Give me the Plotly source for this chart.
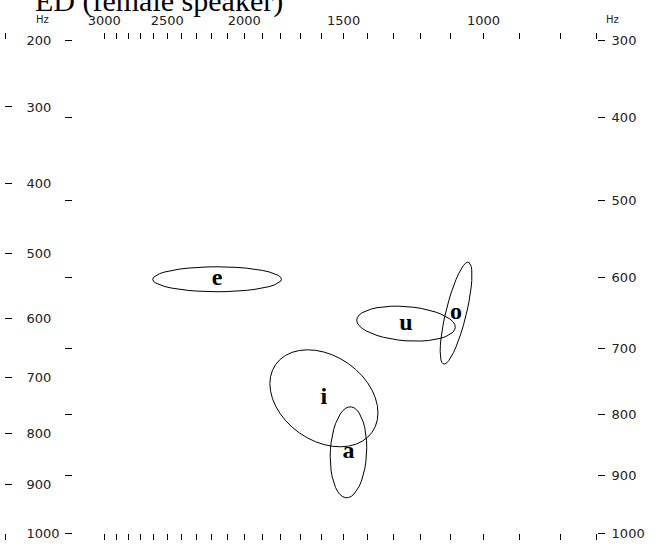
import numpy as np
import plotly.graph_objects as go

# ---------- Data ----------
VOWELS = ['e', 'u', 'o', 'i', 'a']
F2_HZ = [2164, 1252, 1083, 1588, 1479]          # ellipse centres, F2 (Hz)
F1_HZ = [539, 609, 592, 736, 836]               # ellipse centres, F1 (Hz)
F2_SPREAD = [0.081, 0.062, 0.020, 0.068, 0.023]  # half axis, log10(Hz)
F1_SPREAD = [0.161, 0.226, 0.658, 0.626, 0.587]  # half axis, Bark
RHO = [0.0, -0.2, 0.75, -0.3, 0.1]              # F2/F1 correlation

F2_TICKS = list(range(3000, 700, -100))
F2_LABELED = [3000, 2500, 2000, 1500, 1000]
F2_RANGE = (4000, 720)

# F1 scales: left and right are drawn on different Bark spans; the top
# label of each one simply marks the corner of the frame
F1_LEFT = [200, 300, 400, 500, 600, 700, 800, 900, 1000]
F1_LEFT_RANGE = (219, 1000)
F1_RIGHT = [300, 400, 500, 600, 700, 800, 900, 1000]
F1_RIGHT_RANGE = (314, 1000)

TITLE = 'ED (female speaker)'


def bark(f):
    f = np.asarray(f, dtype=float)
    return 26.81 * f / (1960 + f) - 0.53


def bark_ticks(values, top):
    pos = bark(values)
    pos[0] = bark(top)  # first label sits on the frame corner
    return pos


# ---------- Figure ----------
TICKFONT = dict(family='DejaVu Sans', size=13, color='#222')
W, H = 655, 546
M = dict(l=5, r=58, t=40, b=13)
plot_w = W - M['l'] - M['r']

fig = go.Figure()

t = np.linspace(0, 2 * np.pi, 41)
for v, f2, f1, sx, sy, r in zip(VOWELS, F2_HZ, F1_HZ, F2_SPREAD, F1_SPREAD, RHO):
    xs = 10 ** (np.log10(f2) + sx * np.cos(t))
    ys = bark(f1) + sy * (r * np.cos(t) + np.sqrt(1 - r ** 2) * np.sin(t))
    fig.add_trace(go.Scatter(x=xs, y=ys, mode='lines',
                             line=dict(color='black', width=1), hoverinfo='skip'))

fig.add_trace(go.Scatter(x=F2_HZ, y=bark(F1_HZ), mode='text', text=VOWELS,
                         textposition='middle center',
                         textfont=dict(family='Liberation Serif', size=24,
                                       color='black', weight='bold')))

# empty traces so the extra axes are drawn
fig.add_trace(go.Scatter(x=[], y=[], xaxis='x2', yaxis='y'))
fig.add_trace(go.Scatter(x=[], y=[], xaxis='x', yaxis='y2'))
fig.add_trace(go.Scatter(x=[], y=[], xaxis='x', yaxis='y3'))

x_tickvals = [F2_RANGE[0] - 1] + F2_TICKS + [F2_RANGE[1] + 1]
x_ticktext = [''] + [str(v) if v in F2_LABELED else '' for v in F2_TICKS] + ['']
xrange = [np.log10(F2_RANGE[0]), np.log10(F2_RANGE[1])]
common = dict(showgrid=False, zeroline=False, showline=False, automargin=False,
              tickcolor='black', tickwidth=1)
common_x = dict(type='log', range=xrange, tickvals=x_tickvals,
                ticks='outside', ticklen=6, **common)

left_range = [float(bark(F1_LEFT_RANGE[1])), float(bark(F1_LEFT_RANGE[0]))]
right_range = [float(bark(F1_RIGHT_RANGE[1])), float(bark(F1_RIGHT_RANGE[0]))]
left_ticks = bark_ticks(F1_LEFT, F1_LEFT_RANGE[0])
right_ticks = bark_ticks(F1_RIGHT, F1_RIGHT_RANGE[0])

fig.update_layout(
    width=W, height=H, margin=M,
    plot_bgcolor='white', paper_bgcolor='white', showlegend=False,
    xaxis=dict(**common_x, side='top', ticktext=x_ticktext, tickfont=TICKFONT,
               ticklabelstandoff=3),
    xaxis2=dict(**common_x, side='bottom', overlaying='x', anchor='y',
                showticklabels=False),
    yaxis=dict(range=left_range, tickvals=left_ticks,
               ticktext=[str(v) for v in F1_LEFT],
               ticks='inside', ticklen=7,
               ticklabelposition='inside', ticklabelstandoff=14,
               ticklabeloverflow='allow', tickfont=TICKFONT, **common),
    yaxis2=dict(range=right_range, overlaying='y', side='right', anchor='x',
                tickvals=right_ticks, ticktext=[str(v) for v in F1_RIGHT],
                ticks='outside', ticklen=7, ticklabelstandoff=4,
                ticklabeloverflow='allow', tickfont=TICKFONT, **common),
    yaxis3=dict(range=right_range, overlaying='y',
                anchor='free', position=(72 - M['l']) / plot_w, side='left',
                tickvals=right_ticks, ticks='outside', ticklen=7,
                showticklabels=False, **common),
)

# title, cut off by the top edge like the original
fig.add_annotation(text=TITLE, xref='paper', yref='paper', x=(33 - M['l']) / plot_w,
                   y=1, xanchor='left', yanchor='bottom', yshift=20, showarrow=False,
                   font=dict(family='Liberation Serif', size=30, color='black'))
for xp in (42, 612):
    fig.add_annotation(text='Hz', xref='paper', yref='paper', x=(xp - M['l']) / plot_w,
                       y=1, xanchor='center', yanchor='middle', yshift=21,
                       showarrow=False, font=dict(family='DejaVu Sans', size=10, color='#222'))

# page has a default 8px body margin; drop it so the figure sits at 0,0
fig.write_html('out.html', config={'displayModeBar': False},
               post_script="document.body.style.margin='0';")
